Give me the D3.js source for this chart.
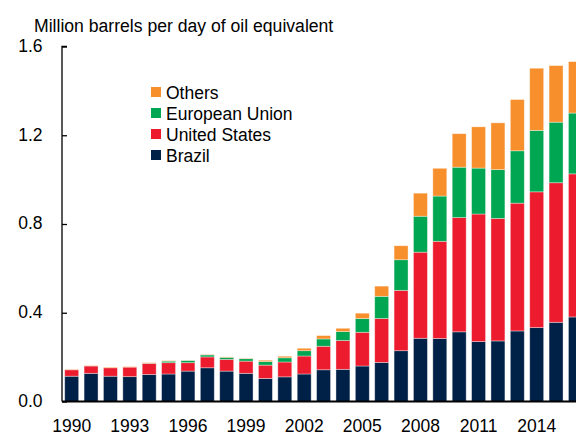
<!DOCTYPE html>
<html>
<head>
<meta charset="utf-8">
<script src="https://cdn.jsdelivr.net/npm/d3@7"></script>
<style>
  body { margin: 0; background: #fff; }
  svg { display: block; font-family: "Liberation Sans", Arial, sans-serif; }
  .tick text { fill: #000; }
</style>
</head>
<body>
<div id="chart"></div>
<script>
// Data (million barrels per day of oil equivalent)
var years = d3.range(1990, 2017);
var brazil = [0.114, 0.127, 0.114, 0.112, 0.122, 0.124, 0.137, 0.152, 0.137, 0.127,
              0.104, 0.111, 0.124, 0.143, 0.145, 0.160, 0.176, 0.229, 0.285, 0.284,
              0.314, 0.270, 0.273, 0.318, 0.333, 0.357, 0.381];
var unitedStates = [0.029, 0.033, 0.038, 0.043, 0.050, 0.051, 0.038, 0.049, 0.053, 0.055,
              0.060, 0.067, 0.081, 0.106, 0.130, 0.152, 0.198, 0.272, 0.388, 0.438,
              0.515, 0.575, 0.552, 0.576, 0.612, 0.629, 0.645];
var europeanUnion = [0.000, 0.000, 0.000, 0.000, 0.001, 0.007, 0.010, 0.009, 0.009, 0.011,
              0.016, 0.019, 0.024, 0.033, 0.040, 0.062, 0.100, 0.138, 0.162, 0.204,
              0.227, 0.207, 0.220, 0.236, 0.277, 0.273, 0.274];
var others = [0.002, 0.002, 0.003, 0.002, 0.002, 0.002, 0.001, 0.002, 0.002, 0.002,
              0.006, 0.007, 0.011, 0.015, 0.015, 0.024, 0.046, 0.063, 0.104, 0.125,
              0.151, 0.186, 0.211, 0.231, 0.280, 0.255, 0.232];
var seriesKeys = ["Brazil", "United States", "European Union", "Others"];
var colors = ["#002147", "#ec1c2e", "#00a651", "#f78f2c"];
var yTicks = [0, 0.4, 0.8, 1.2, 1.6];
var xTickYears = [1990, 1993, 1996, 1999, 2002, 2005, 2008, 2011, 2014];

var table = years.map(function(yr, i) {
  return { year: yr, "Brazil": brazil[i], "United States": unitedStates[i],
           "European Union": europeanUnion[i], "Others": others[i] };
});

var width = 576, height = 436;
var margin = { top: 46.5, left: 62, bottom: 34.5 };
var step = 19.375;

var svg = d3.select("#chart").append("svg")
  .attr("width", width)
  .attr("height", height);

var x = d3.scaleBand()
  .domain(years)
  .range([margin.left, margin.left + step * years.length])
  .paddingInner(0.28)
  .paddingOuter(0.14);

var y = d3.scaleLinear()
  .domain([0, 1.6])
  .range([height - margin.bottom, margin.top]);

var stacked = d3.stack().keys(seriesKeys)(table);

// Bars
svg.append("g").selectAll("g")
  .data(stacked)
  .enter().append("g")
  .attr("fill", function(d, i) { return colors[i]; })
  .selectAll("rect")
  .data(function(d) { return d; })
  .enter().append("rect")
  .attr("x", function(d) { return x(d.data.year); })
  .attr("y", function(d) { return y(d[1]); })
  .attr("height", function(d) { return Math.max(0, y(d[0]) - y(d[1])); })
  .attr("width", x.bandwidth())
  .attr("stroke", "#fff")
  .attr("stroke-opacity", 0.45)
  .attr("stroke-width", 0.8);

// Y axis (ticks pointing inward)
var yAxis = svg.append("g")
  .attr("transform", "translate(" + margin.left + ",0)")
  .call(d3.axisRight(y).tickValues(yTicks).tickSize(5).tickFormat(d3.format(".1f")));
yAxis.select(".domain").attr("stroke", "#000").attr("stroke-width", 1.3)
  .attr("d", "M0," + y(0) + "V" + y(1.6) + "H5");
yAxis.selectAll(".tick line").attr("stroke", "#000").attr("stroke-width", 1.3);
yAxis.selectAll(".tick text")
  .attr("x", -19.5)
  .attr("dy", "0.28em")
  .attr("text-anchor", "end")
  .attr("font-size", 17.5);

// X axis
var xAxis = svg.append("g")
  .attr("transform", "translate(0," + y(0) + ")")
  .call(d3.axisBottom(x).tickValues(xTickYears).tickSize(0).tickPadding(18));
xAxis.select(".domain").attr("stroke", "#000").attr("stroke-width", 2.2)
  .attr("d", "M" + margin.left + ",0H" + width);
xAxis.selectAll(".tick text").attr("font-size", 17.5);

// Unit label
svg.append("text")
  .attr("x", 34)
  .attr("y", 31.5)
  .attr("font-size", 17.6)
  .text("Million barrels per day of oil equivalent");

// Legend
var legendItems = ["Others", "European Union", "United States", "Brazil"];
var legend = svg.append("g").attr("transform", "translate(151,92)");
legendItems.forEach(function(name, i) {
  var row = legend.append("g").attr("transform", "translate(0," + (i * 21) + ")");
  row.append("rect")
    .attr("x", 0).attr("y", -5)
    .attr("width", 10).attr("height", 10)
    .attr("fill", colors[seriesKeys.indexOf(name)]);
  row.append("text")
    .attr("x", 15).attr("y", 6.5)
    .attr("font-size", 17.5)
    .text(name);
});
</script>
</body>
</html>
